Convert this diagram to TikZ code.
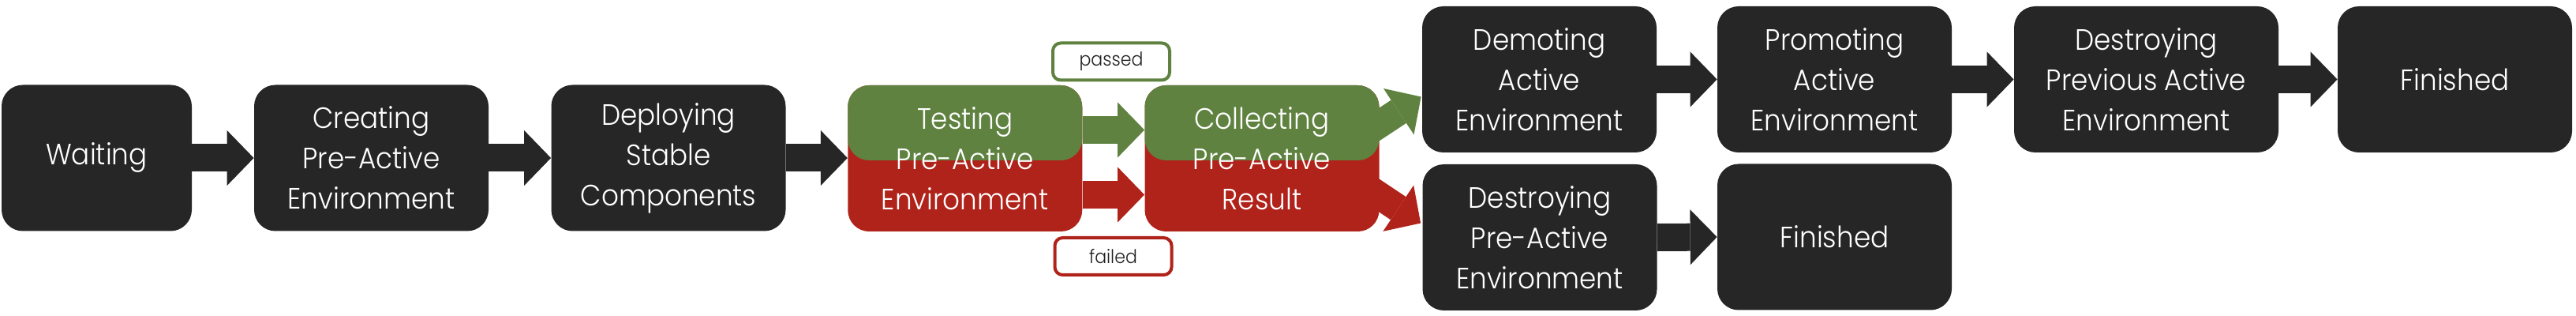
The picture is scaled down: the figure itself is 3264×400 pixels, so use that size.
\documentclass[tikz,border=0pt]{standalone}
\usepackage{fontspec}
\setmainfont{Poppins}[UprightFont={* Light}, FakeStretch=0.92]
\usetikzlibrary{arrows.meta,calc}
\definecolor{boxc}{HTML}{262626}
\definecolor{passc}{HTML}{5F8240}
\definecolor{failc}{HTML}{B0231A}
\definecolor{tagtext}{HTML}{222222}
\begin{document}
\begin{tikzpicture}[x=0.5pt,y=-0.5pt,
  box/.style={rectangle, rounded corners=13.5pt, fill=boxc, text=white,
    minimum width=148.5pt, minimum height=92.5pt, inner sep=0pt, align=center,
    font=\fontsize{18.6}{25.5}\selectfont},
  splitbox/.style={box, fill=failc,
    path picture={\fill[passc] (path picture bounding box.north west) rectangle ($(path picture bounding box.east)+(0,2.5)$);}},
  conn/.style={draw=boxc, line width=17.5pt, -{Triangle[length=17pt,width=35pt,line width=0pt]}},
  passconn/.style={conn, draw=passc},
  failconn/.style={conn, draw=failc},
  tag/.style={rectangle, rounded corners=5pt, draw, line width=2pt, fill=white,
    minimum width=74pt, minimum height=23.5pt, inner sep=0pt, text=tagtext,
    font=\fontsize{12}{14}\selectfont}
]
\useasboundingbox (0,0) rectangle (3264,400);

\node[box, minimum width=120.5pt] (wait) at (122.5,200) {Waiting};
\node[box] (create) at (470.5,200) {Creating\\Pre-Active\\Environment};
\node[box] (deploy) at (847,200) {Deploying\\Stable\\Components};
\node[splitbox] (test) at (1222.75,200.5) {Testing\\Pre-Active\\Environment};
\node[splitbox] (coll) at (1599,200.5) {Collecting\\Pre-Active\\Result};
\node[box] (demote) at (1950.5,100.5) {Demoting\\Active\\Environment};
\node[box] (dpre) at (1951,300.5) {Destroying\\Pre-Active\\Environment};
\node[box] (promote) at (2324.5,100.5) {Promoting\\Active\\Environment};
\node[box] (fin2) at (2324.5,300) {Finished};
\node[box, minimum width=167.5pt] (dprev) at (2719.5,100.5) {Destroying\\Previous Active\\Environment};
\node[box] (fin1) at (3110.5,100.5) {Finished};

\node[tag, draw=passc] (passed) at (1408,78) {passed};
\node[tag, draw=failc] (failed) at (1410.5,324.5) {failed};

\draw[conn] (wait.east) -- (create.west);
\draw[conn] (create.east) -- (deploy.west);
\draw[conn] (deploy.east) -- ($(test.west)+(0,-0.5)$);
\draw[passconn] ($(test.east)+(0,-36)$) -- ($(coll.west)+(0,-36)$);
\draw[failconn] ($(test.east)+(0,46)$) -- ($(coll.west)+(0,46)$);
\draw[passconn] ($(coll.east)+(-17,-32)$) -- ($(demote.west)+(-1,22)$);
\draw[failconn] ($(coll.east)+(-17,36)$) -- ($(dpre.west)+(-2,-18)$);
\draw[conn] (demote.east) -- (promote.west);
\draw[conn] (promote.east) -- (dprev.west);
\draw[conn] (dprev.east) -- (fin1.west);
\draw[conn] (dpre.east) -- (fin2.west);
\end{tikzpicture}
\end{document}
